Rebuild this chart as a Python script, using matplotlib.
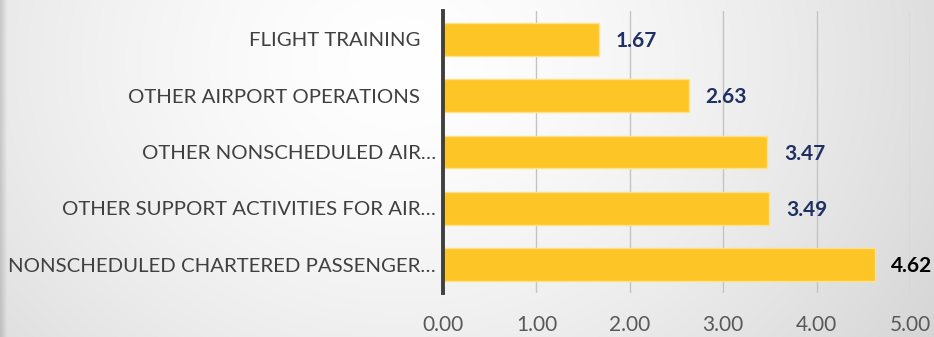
import numpy as np
import matplotlib.pyplot as plt

categories = ["NONSCHEDULED CHARTERED PASSENGER…",
              "OTHER SUPPORT ACTIVITIES FOR AIR…",
              "OTHER NONSCHEDULED AIR…",
              "OTHER AIRPORT OPERATIONS   ",
              "FLIGHT TRAINING   "]
values = [4.62, 3.49, 3.47, 2.63, 1.67]
label_colors = ["#000000", "#1f3062", "#1f3062", "#1f3062", "#1f3062"]
xticks = [0, 1, 2, 3, 4, 5]

plt.rcParams['font.family'] = ['Lato', 'DejaVu Sans']

W, H = 934, 337
fig = plt.figure(figsize=(W / 100, H / 100), dpi=100)

# soft grey backdrop, lightest near the upper middle
bg = fig.add_axes([0, 0, 1, 1])
yy, xx = np.mgrid[0:H, 0:W]
d = np.hypot(xx - 400, (yy - 60) * 1.2)
shade = 1 - 0.16 * (d / 620) ** 1.5
edge = np.clip(xx / 7.0, 0, 1)
shade = shade * (0.86 + 0.14 * edge)
bg.imshow(np.dstack([shade] * 3), extent=[0, 1, 0, 1], aspect='auto',
          vmin=0, vmax=1, interpolation='bilinear')
bg.axis('off')

ax = fig.add_axes([443 / W, 1 - 293 / H, (910 - 443) / W, (293 - 11) / H])
ax.patch.set_alpha(0)

y = np.arange(len(categories))
bars = ax.barh(y, values, height=0.58, color="#fdc526",
               edgecolor="#fde28a", linewidth=1.0, zorder=3)

for b, v, c in zip(bars, values, label_colors):
    ax.text(v + 0.18, b.get_y() + b.get_height() / 2 - 0.03, f"{v:.2f}",
            va='center', ha='left', fontsize=15, fontweight='bold',
            color=c, zorder=4)

ax.set_xlim(0, 5)
ax.set_ylim(-0.5, len(categories) - 0.5)
ax.set_xticks(xticks)
ax.set_xticklabels([f"{t:.2f}" for t in xticks], fontsize=15, color="#595959")
ax.set_yticks(y)
ax.set_yticklabels(categories, fontsize=14.7, color="#404040")
ax.tick_params(axis='x', length=0, pad=16)
ax.tick_params(axis='y', length=0, pad=5)

ax.grid(axis='x', color="#c4c4c4", linewidth=1.0, zorder=0)
for s in ['top', 'right', 'bottom']:
    ax.spines[s].set_visible(False)
ax.spines['left'].set_color("#404040")
ax.spines['left'].set_linewidth(2.8)
ax.spines['left'].set_zorder(5)

fig.savefig("out.png", dpi=100)
